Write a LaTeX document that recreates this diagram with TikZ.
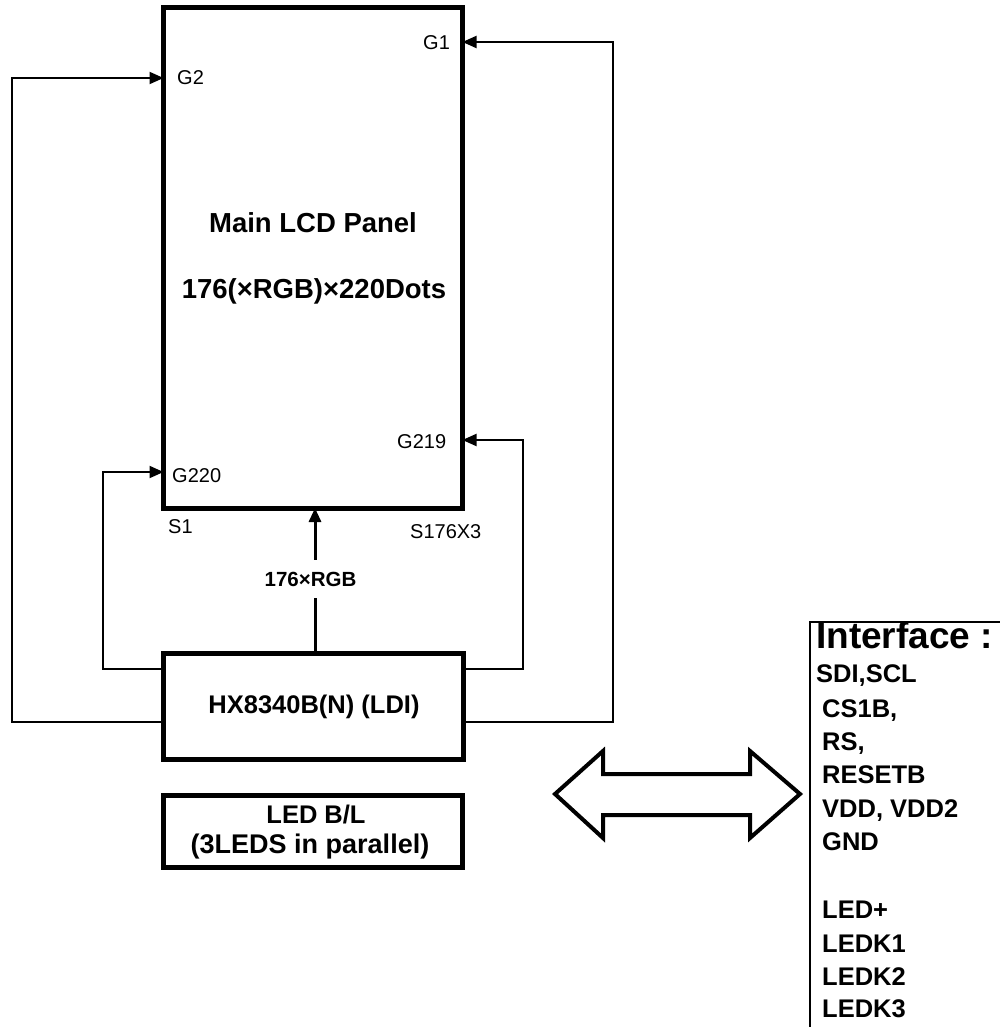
\documentclass[tikz,border=0pt]{standalone}
\usepackage{fontspec}
\setmainfont{Liberation Sans}
\usetikzlibrary{arrows.meta}
\begin{document}
\begin{tikzpicture}[x=1pt,y=-1pt,
  panelbox/.style={draw, line width=5pt, inner sep=0pt, outer sep=0pt},
  conn/.style={line width=2pt},
  tip/.style={-{Triangle[length=14pt,width=12pt]}},
  glabel/.style={anchor=base west, inner sep=0pt, font=\fontsize{20}{24}\selectfont},
  btext/.style={anchor=base, inner sep=0pt, font=\bfseries\fontsize{#1}{#1}\selectfont},
  iftext/.style={anchor=base west, inner sep=0pt, font=\bfseries\fontsize{25.5}{28}\selectfont}]
\useasboundingbox (0,0) rectangle (1000,1027);
% boxes
\node[panelbox, minimum width=299pt, minimum height=500.5pt] (lcd) at (313,257.75) {};
\node[panelbox, minimum width=299.5pt, minimum height=106pt] (hx) at (313.25,706.5) {};
\node[panelbox, minimum width=299pt, minimum height=72pt] (led) at (313,831.5) {};
% texts in boxes
\node[btext=27.5] (t1) at (313,232) {Main LCD Panel};
\node[btext=27.5] (t2) at (314,298) {176(×RGB)×220Dots};
\node[btext=25.5] (thx) at (314,713) {HX8340B(N) (LDI)};
\node[btext=25.5] (tled1) at (316,823) {LED B/L};
\node[btext=27] (tled2) at (310,853) {(3LEDS in parallel)};
% port labels
\node[glabel] (lG1) at (423,50) {G1};
\node[glabel] (lG2) at (177,85) {G2};
\node[glabel] (lG219) at (397,448) {G219};
\node[glabel] (lG220) at (172,482) {G220};
\node[glabel] (lS1) at (168,533) {S1};
\node[glabel] (lS176) at (410,538) {S176X3};
% routing corners
\coordinate (lo) at (12,722);
\coordinate (li) at (103,669);
\coordinate (ri) at (523,669);
\coordinate (ro) at (613,722);
\coordinate (pG1) at (lcd.east |- 0,42);
\coordinate (pG2) at (lcd.west |- 0,78);
\coordinate (pG219) at (lcd.east |- 0,440);
\coordinate (pG220) at (lcd.west |- 0,472);
% connectors
\draw[conn,tip] (hx.west |- lo) -- (lo) |- (pG2);
\draw[conn,tip] (hx.west |- li) -- (li) |- (pG220);
\draw[conn,tip] (hx.east |- ri) -- (ri) |- (pG219);
\draw[conn,tip] (hx.east |- ro) -- (ro) |- (pG1);
% 176xRGB bus
\node[btext=20.5, anchor=center, minimum height=38pt] (rgb) at (310.5,579) {176×RGB};
\coordinate (bx) at (315,579);
\draw[line width=3pt] (hx.north -| bx) -- (rgb.south -| bx);
\draw[line width=3pt,tip] (rgb.north -| bx) -- (lcd.south -| bx);
% double arrow
\draw[line width=4pt, line join=miter]
  (555,794) -- (603,751) -- (603,774) -- (750,774) -- (750,751) -- (800,794)
  -- (750,838) -- (750,815) -- (603,815) -- (603,838) -- cycle;
% interface box
\draw[line width=2pt] (1010,622) -- (810,622) -- (810,1040);
\node[anchor=base west, inner sep=0pt, font=\bfseries\fontsize{37}{40}\selectfont] (ifh) at (816,648) {Interface :};
\node[iftext] (i1) at (816,682) {SDI,SCL};
\node[iftext] (i2) at (822,717) {CS1B,};
\node[iftext] (i3) at (822,750) {RS,};
\node[iftext] (i4) at (822,783) {RESETB};
\node[iftext] (i5) at (822,817) {VDD, VDD2};
\node[iftext] (i6) at (822,850) {GND};
\node[iftext] (i7) at (822,918) {LED+};
\node[iftext] (i8) at (822,952) {LEDK1};
\node[iftext] (i9) at (822,985) {LEDK2};
\node[iftext] (i10) at (822,1017) {LEDK3};
\end{tikzpicture}
\end{document}
